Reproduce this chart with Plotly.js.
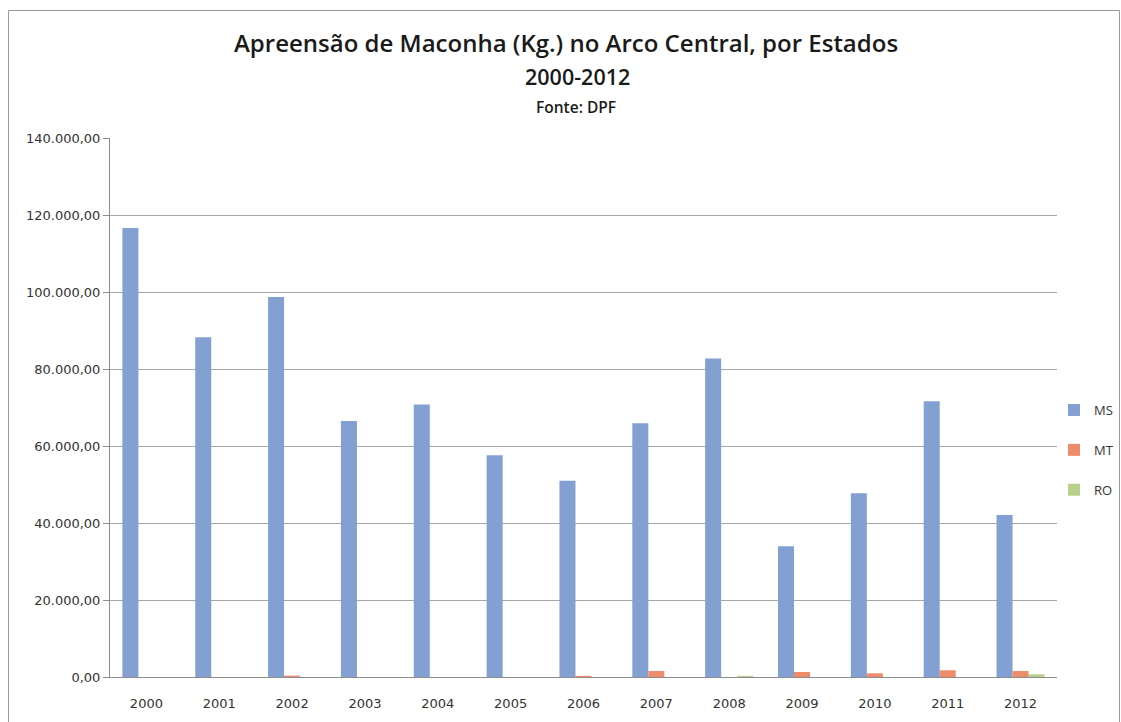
<!DOCTYPE html>
<html>
<head>
<meta charset="utf-8">
<script src="https://cdn.plot.ly/plotly-3.0.1.min.js"></script>
<style>html,body{margin:0;padding:0;background:#fff;}#chart{width:1121px;height:722px;}</style>
</head>
<body>
<div id="chart"></div>
<script>
// Data
const years = ["2000","2001","2002","2003","2004","2005","2006","2007","2008","2009","2010","2011","2012"];
const ms = [116600, 88250, 98700, 66500, 70800, 57600, 51000, 65900, 82700, 33950, 47700, 71600, 42100];
const mt = [0, 0, 350, 0, 0, 0, 300, 1550, 0, 1300, 950, 1750, 1550];
const ro = [0, 0, 0, 0, 0, 0, 0, 0, 300, 0, 0, 0, 700];
const seriesNames = ["MS", "MT", "RO"];
const yTicks = [0, 20000, 40000, 60000, 80000, 100000, 120000, 140000];

const colors = ["#83a0d2", "#ee8b6a", "#b8d08c"];
const values = [ms, mt, ro];

const traces = values.map((v, i) => ({
  type: "bar",
  name: seriesNames[i],
  x: years,
  y: v,
  legendgroup: seriesNames[i],
  marker: {color: colors[i], line: {width: 0}},
  hoverinfo: "x+y+name"
}));

const L = 110, R = 64, T = 138, B = 45;
const W = 1121 - L - R, H = 722 - T - B;
const px = x => (x - L) / W;
const py = y => (722 - B - y) / H;

const layout = {
  width: 1121, height: 722,
  margin: {l: L, r: R, t: T, b: B, autoexpand: false},
  paper_bgcolor: "#ffffff",
  plot_bgcolor: "#ffffff",
  separators: ",.",
  barmode: "group",
  bargap: 0.34,
  bargroupgap: 0,
  showlegend: true,
  font: {family: "DejaVu Sans", color: "#333333"},
  xaxis: {
    type: "category",
    showline: true, linecolor: "#8c8c8c", linewidth: 1,
    ticks: "", showgrid: false,
    tickfont: {family: "DejaVu Sans", size: 13, color: "#333333"},
    ticklabelstandoff: 14,
    fixedrange: true
  },
  yaxis: {
    range: [0, 140000],
    tickvals: yTicks,
    tickformat: ",.2f",
    showline: true, linecolor: "#8c8c8c", linewidth: 1,
    ticks: "outside", ticklen: 6, tickcolor: "#8c8c8c",
    showgrid: true, gridcolor: "#a6a6a6", gridwidth: 1,
    zeroline: false,
    tickfont: {family: "DejaVu Sans", size: 13, color: "#333333"},
    fixedrange: true
  },
  legend: {
    x: px(1054), y: py(450), xanchor: "left", yanchor: "middle",
    font: {family: "Open Sans", size: 13, color: "#333333"},
    tracegroupgap: 20,
    itemwidth: 30,
    bgcolor: "rgba(0,0,0,0)"
  },
  annotations: [
    {text: "Apreensão de Maconha (Kg.) no Arco Central, por Estados", xref: "paper", yref: "paper",
     x: px(566), y: py(43), xanchor: "center", yanchor: "middle", showarrow: false,
     font: {family: "Open Sans", size: 24, color: "#1a1a1a", weight: 600}},
    {text: "2000-2012", xref: "paper", yref: "paper",
     x: px(577), y: py(76), xanchor: "center", yanchor: "middle", showarrow: false,
     font: {family: "Open Sans", size: 21.5, color: "#1a1a1a", weight: 600}},
    {text: "Fonte: DPF", xref: "paper", yref: "paper",
     x: px(576), y: py(107), xanchor: "center", yanchor: "middle", showarrow: false,
     font: {family: "Open Sans", size: 15.5, color: "#1a1a1a", weight: 600}}
  ],
  shapes: [
    {type: "rect", xref: "paper", yref: "paper",
     x0: px(8.5), x1: px(1119.5), y0: py(730), y1: py(10.5),
     line: {color: "#9a9a9a", width: 1}, fillcolor: "rgba(0,0,0,0)", layer: "below"}
  ]
};

Plotly.newPlot("chart", traces, layout, {displayModeBar: false, staticPlot: true});
</script>
</body>
</html>
